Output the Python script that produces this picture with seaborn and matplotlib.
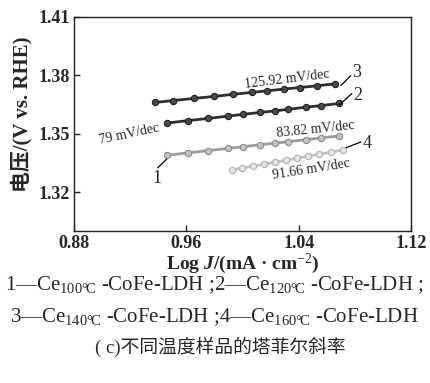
import matplotlib
matplotlib.use("Agg")
import matplotlib.pyplot as plt
import numpy as np
import pandas as pd
import seaborn as sns

# log J values (mA cm-2)
x_s1 = [0.9459, 0.9612, 0.9755, 0.9897, 1.0004, 1.0125, 1.0232, 1.0324, 1.0453, 1.0560, 1.0688]
y_s1 = [1.3389, 1.3401, 1.3413, 1.3424, 1.3433, 1.3443, 1.3451, 1.3459, 1.3469, 1.3478, 1.3488]

x_s2 = [0.9459, 0.9612, 0.9755, 0.9897, 1.0004, 1.0125, 1.0232, 1.0324, 1.0453, 1.0560, 1.0688]
y_s2 = [1.3554, 1.3567, 1.3578, 1.3590, 1.3599, 1.3609, 1.3617, 1.3625, 1.3636, 1.3644, 1.3655]

x_s3 = [0.9377, 0.9505, 0.9655, 0.9797, 0.9933, 1.0068, 1.0175, 1.0296, 1.0410, 1.0531, 1.0659]
y_s3 = [1.3660, 1.3670, 1.3681, 1.3691, 1.3702, 1.3712, 1.3720, 1.3729, 1.3737, 1.3746, 1.3756]

x_s4 = [0.9926, 0.9997, 1.0075, 1.0154, 1.0232, 1.0310, 1.0389, 1.0467, 1.0545, 1.0631, 1.0716]
y_s4 = [1.3314, 1.3323, 1.3333, 1.3343, 1.3353, 1.3363, 1.3374, 1.3384, 1.3394, 1.3405, 1.3416]

series_names = ["1", "2", "3", "4"]
slope_labels = ["83.82 mV/dec", "79 mV/dec", "125.92 mV/dec", "91.66 mV/dec"]
x_ticks = [0.88, 0.96, 1.04, 1.12]
y_ticks = [1.32, 1.35, 1.38, 1.41]

sns.set_style("ticks")
plt.rcParams["font.family"] = ["Liberation Serif", "Noto Sans CJK SC", "DejaVu Sans"]
plt.rcParams["mathtext.fontset"] = "custom"
plt.rcParams["mathtext.rm"] = "Liberation Serif"
plt.rcParams["mathtext.it"] = "Liberation Serif:italic:bold"
plt.rcParams["mathtext.bf"] = "Liberation Serif:bold"

df = pd.concat([
    pd.DataFrame({"logj": x_s1, "v": y_s1, "s": "1"}),
    pd.DataFrame({"logj": x_s2, "v": y_s2, "s": "2"}),
    pd.DataFrame({"logj": x_s3, "v": y_s3, "s": "3"}),
    pd.DataFrame({"logj": x_s4, "v": y_s4, "s": "4"}),
])

styles = {
    "1": dict(color="#9c9c9c", mfc="#c4c4c4", mec="#8a8a8a"),
    "2": dict(color="#2e2e2e", mfc="#4a4a4a", mec="#1e1e1e"),
    "3": dict(color="#2e2e2e", mfc="#4a4a4a", mec="#1e1e1e"),
    "4": dict(color="#c2c2c2", mfc="#e6e6e6", mec="#b0b0b0"),
}

fig = plt.figure(figsize=(4.30, 3.83), dpi=100)
ax = fig.add_axes([0.172, 0.397, 0.784, 0.559])

for name in series_names:
    st = styles[name]
    sns.lineplot(data=df[df["s"] == name], x="logj", y="v", ax=ax,
                 color=st["color"], marker="o", markersize=4.5, linewidth=2.0,
                 markerfacecolor=st["mfc"], markeredgecolor=st["mec"],
                 markeredgewidth=0.8, legend=False)

ax.set_xlim(0.88, 1.12)
ax.set_ylim(1.30, 1.41)
ax.set_xticks(x_ticks)
ax.set_yticks(y_ticks)
ax.set_xticklabels([f"{t:.2f}" for t in x_ticks], fontsize=13, fontweight="bold")
ax.set_yticklabels([f"{t:.2f}" for t in y_ticks], fontsize=13, fontweight="bold")
ax.tick_params(direction="in", length=4, width=1, pad=3, top=False, right=False)
for sp in ax.spines.values():
    sp.set_linewidth(1)
    sp.set_color("#222222")

ax.set_xlabel(r"Log $J$/(mA · cm$^{-2}$)", fontsize=14, fontweight="bold", labelpad=0)
ax.set_ylabel("")
fig.text(22 / 430, 1 - 114 / 383, "电压/(V vs. RHE)", fontsize=15, fontweight="bold",
         rotation=90, ha="center", va="center")

# slope annotations
ax.text(1.0317, 1.3778, slope_labels[2], fontsize=10, rotation=7, ha="center", va="center")
ax.text(0.9192, 1.3496, slope_labels[1], fontsize=10, rotation=12, ha="center", va="center")
ax.text(1.0522, 1.3522, slope_labels[0], fontsize=10, rotation=6, ha="center", va="center")
ax.text(1.0487, 1.3317, slope_labels[3], fontsize=10, rotation=9, ha="center", va="center")

# curve numbers with leader lines
leaders = {
    "3": ((1.0700, 1.3747), (1.0771, 1.3798), (1.0809, 1.3814)),
    "2": ((1.0690, 1.3648), (1.0778, 1.3706), (1.0823, 1.3696)),
    "4": ((1.0738, 1.3428), (1.0842, 1.3457), (1.0887, 1.3450)),
    "1": ((0.9396, 1.3324), (0.9460, 1.3369), (0.9391, 1.3271)),
}
for name, (p0, p1, pt) in leaders.items():
    ax.plot([p0[0], p1[0]], [p0[1], p1[1]], color="black", linewidth=0.9)
    ax.text(pt[0], pt[1], name, fontsize=13, ha="center", va="center")

cap1 = r"1—Ce$_{\mathrm{100°\!C}}$ -CoFe-LDH ;2—Ce$_{\mathrm{120°\!C}}$ -CoFe-LDH ;"
cap2 = r"3—Ce$_{\mathrm{140°\!C}}$ -CoFe-LDH ;4—Ce$_{\mathrm{160°\!C}}$ -CoFe-LDH"
fig.text(0.499, 0.256, cap1, fontsize=15, ha="center", va="center")
fig.text(0.499, 0.172, cap2, fontsize=15, ha="center", va="center")
fig.text(0.512, 0.094, "( c)不同温度样品的塔菲尔斜率", fontsize=13.5, ha="center", va="center")

fig.savefig("out.png", dpi=100)
